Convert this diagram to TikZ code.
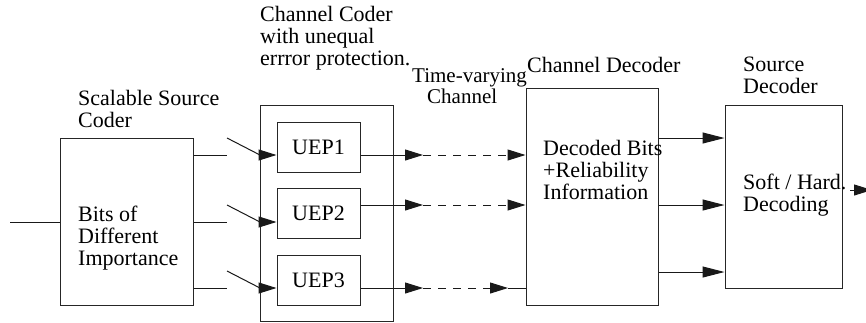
\documentclass[tikz,border=0pt]{standalone}
\usepackage{fontspec}
\setmainfont{Liberation Serif}
\usetikzlibrary{arrows.meta}
\begin{document}
\begin{tikzpicture}[x=1pt,y=-1pt,
  box/.style={draw=black!85, line width=1pt, inner sep=0pt},
  lbl/.style={font=\fontsize{22}{21.8}\selectfont, inner sep=0pt, anchor=base west, align=left},
  wire/.style={draw=black!90, line width=1pt},
  tip/.style={-{Triangle[length=18pt,width=11pt]}},
  bigtip/.style={-{Triangle[length=22pt,width=11pt]}},
  chan/.style={dash pattern=on 8pt off 7pt},
]
\useasboundingbox (0,0) rectangle (866,322);

% ---- blocks ----
\node[box, minimum width=133pt, minimum height=167pt] (src) at (126.5,221.5) {};
\node[box, minimum width=133pt, minimum height=216pt] (cc) at (326.5,213) {};
\node[box, minimum width=83pt, minimum height=50pt, font=\fontsize{22}{22}\selectfont] (uep1) at (318.5,147) {UEP1};
\node[box, minimum width=83pt, minimum height=50pt, font=\fontsize{22}{22}\selectfont] (uep2) at (318.5,213) {UEP2};
\node[box, minimum width=83pt, minimum height=50pt, font=\fontsize{22}{22}\selectfont] (uep3) at (318.5,280) {UEP3};
\node[box, minimum width=132pt, minimum height=217pt] (dec) at (592,196.5) {};
\node[box, minimum width=117pt, minimum height=183pt] (sdec) at (783.5,196.5) {};

% ---- labels (placed by the baseline of their last line) ----
\node[lbl] (lsrc) at (78,127) {Scalable Source\\Coder};
\node[lbl] (tsrc) at (78,265) {Bits of\\Different\\Importance};
\node[lbl] (lcc) at (260,65) {Channel Coder\\with unequal\\errror protection.};
\node[lbl, font=\fontsize{21}{15}\selectfont] (lch) at (412,103) {Time-varying\\\hspace*{15pt}Channel};
\node[lbl] (ldec) at (527,72) {Channel Decoder};
\node[lbl] (tdec) at (543,199) {Decoded Bits\\+Reliability\\Information};
\node[lbl] (lsdec) at (743,93) {Source\\Decoder};
\node[lbl] (tsdec) at (743,211) {Soft / Hard.\\Decoding};

% ---- source coder input and outputs ----
\coordinate (in) at (10,222);
\draw[wire] (in) -- (src.west |- in);
\foreach \i/\ys/\yt in {1/155/138, 2/222/205, 3/288/271} {
  \coordinate (s\i) at (227,\ys);
  \coordinate (t\i) at (227,\yt);
  \coordinate (k\i) at (260,\ys);
  \draw[wire] (src.east |- s\i) -- (s\i);
  \draw[wire, tip] (t\i) -- (k\i) -- (uep\i.west |- k\i);
}

% ---- channel: UEP outputs to channel decoder ----
\coordinate (a1) at (423,155);
\coordinate (a2) at (423,205);
\coordinate (a3) at (423,288);
\coordinate (b3) at (508,288);
\draw[wire, tip] (uep1.east |- a1) -- (a1);
\draw[wire, chan, tip] (a1) -- (dec.west |- a1);
\draw[wire, tip] (uep2.east |- a2) -- (a2);
\draw[wire, chan, tip] (a2) -- (dec.west |- a2);
\draw[wire, tip] (uep3.east |- a3) -- (a3);
\draw[wire, chan, tip] (a3) -- (b3);
\draw[wire] (b3) -- (dec.west |- b3);

% ---- channel decoder to source decoder ----
\foreach \y in {138, 205, 272} {
  \draw[wire, bigtip] (dec.east |- 0,\y) -- (sdec.west |- 0,\y);
}

% ---- final output ----
\coordinate (o1) at (850,190);
\coordinate (o2) at (872,190);
\draw[wire, tip] (o1) -- (o2);
\end{tikzpicture}
\end{document}
